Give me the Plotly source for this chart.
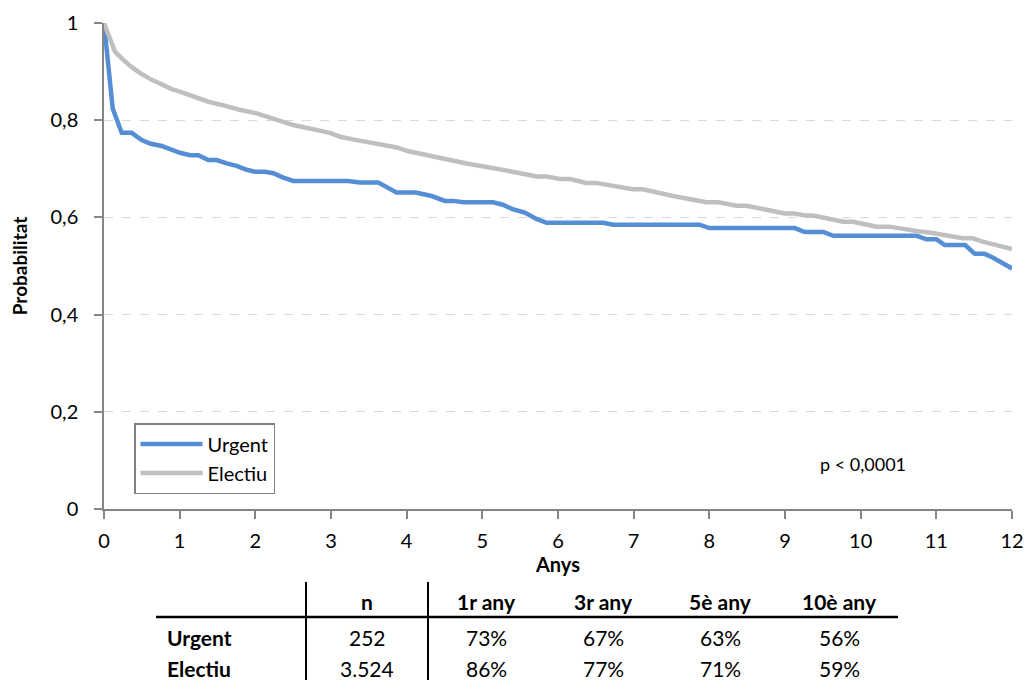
import plotly.graph_objects as go

# ---- data ----
urgent_years = [0, 0.115, 0.234, 0.366, 0.498, 0.608, 0.762, 1.004, 1.137, 1.247, 1.379, 1.489, 1.621, 1.753,
                1.886, 1.996, 2.128, 2.238, 2.37, 2.502, 3.23, 3.38, 3.625, 3.868, 4.12, 4.33, 4.505, 4.615,
                4.75, 5.14, 5.27, 5.40, 5.56, 5.715, 5.85, 6.6, 6.73, 7.87, 8.0, 9.13, 9.26, 9.505, 9.64,
                10.74, 10.87, 11.0, 11.11, 11.38, 11.51, 11.64, 11.75, 12.0]
urgent_surv = [1.0, 0.824, 0.774, 0.774, 0.759, 0.752, 0.747, 0.733, 0.728, 0.728, 0.718, 0.718, 0.711, 0.706,
               0.698, 0.694, 0.694, 0.691, 0.682, 0.675, 0.675, 0.672, 0.672, 0.651, 0.651, 0.644, 0.634, 0.634,
               0.631, 0.631, 0.626, 0.617, 0.610, 0.597, 0.589, 0.589, 0.585, 0.585, 0.578, 0.578, 0.570, 0.570,
               0.562, 0.562, 0.555, 0.555, 0.543, 0.543, 0.525, 0.525, 0.517, 0.495]

electiu_years = [0, 0.145, 0.255, 0.366, 0.498, 0.63, 0.762, 0.894, 1.004, 1.137, 1.247, 1.379, 1.62, 1.775,
                 2.018, 2.238, 2.502, 2.986, 3.12, 3.34, 3.60, 3.87, 4.0, 4.33, 4.79, 5.23, 5.72, 5.85, 6.03,
                 6.16, 6.37, 6.50, 6.99, 7.12, 7.52, 7.96, 8.12, 8.36, 8.49, 9.0, 9.13, 9.26, 9.37, 9.77,
                 9.90, 10.21, 10.38, 10.78, 10.91, 11.35, 11.48, 11.61, 12.0]
electiu_surv = [1.0, 0.941, 0.924, 0.909, 0.895, 0.883, 0.874, 0.864, 0.859, 0.852, 0.847, 0.838, 0.829, 0.822,
                0.814, 0.802, 0.790, 0.774, 0.766, 0.759, 0.751, 0.744, 0.737, 0.726, 0.711, 0.699, 0.684, 0.684,
                0.679, 0.679, 0.671, 0.671, 0.658, 0.658, 0.644, 0.631, 0.631, 0.624, 0.624, 0.608, 0.608, 0.604,
                0.604, 0.591, 0.591, 0.581, 0.581, 0.571, 0.569, 0.557, 0.557, 0.550, 0.535]

series_names = ["Urgent", "Electiu"]
x_ticks = list(range(0, 13))
y_ticks = [0, 0.2, 0.4, 0.6, 0.8, 1]
y_tick_labels = ["0", "0,2", "0,4", "0,6", "0,8", "1"]
p_value_text = "p < 0,0001"

table_header = ["n", "1r any", "3r any", "5è any", "10è any"]
table_rows = ["Urgent", "Electiu"]
table_values = [["252", "73%", "67%", "63%", "56%"],
                ["3.524", "86%", "77%", "71%", "59%"]]

FONT = "Lato, Carlito, Calibri, sans-serif"
FS = 20
TFS = 21
W, H = 1030, 680
L, R, T, B = 104, 18, 23, 171
PW, PH = W - L - R, H - T - B


def px(xp):
    return (xp - L) / PW


def py(yp):
    return (H - B - yp) / PH


fig = go.Figure()
fig.add_trace(go.Scatter(x=urgent_years, y=urgent_surv, mode="lines", name=series_names[0],
                         line=dict(color="#558ED5", width=4.5)))
fig.add_trace(go.Scatter(x=electiu_years, y=electiu_surv, mode="lines", name=series_names[1],
                         line=dict(color="#BFBFBF", width=4.5)))

annotations = [dict(x=px(863), y=py(464), text=p_value_text, showarrow=False,
                    font=dict(size=18, color="#000"), xref="paper", yref="paper",
                    xanchor="center", yanchor="middle")]

col_x = [367, 486, 603, 720, 839]
row_y = [601, 637, 668]
for cx, h in zip(col_x, table_header):
    annotations.append(dict(x=px(cx), y=py(row_y[0]), xref="paper", yref="paper", text="<b>%s</b>" % h,
                            showarrow=False, font=dict(size=TFS, color="#000"), xanchor="center",
                            yanchor="middle"))
for ri, (rname, vals) in enumerate(zip(table_rows, table_values)):
    annotations.append(dict(x=px(165), y=py(row_y[ri + 1]), xref="paper", yref="paper", text="<b>%s</b>" % rname,
                            showarrow=False, font=dict(size=TFS, color="#000"), xanchor="left",
                            yanchor="middle"))
    for cx, v in zip(col_x, vals):
        annotations.append(dict(x=px(cx), y=py(row_y[ri + 1]), xref="paper", yref="paper", text=v,
                                showarrow=False, font=dict(size=TFS, color="#000"), xanchor="center",
                                yanchor="middle"))

shapes = [
    dict(type="line", xref="paper", yref="paper", x0=px(306), x1=px(306), y0=py(582), y1=py(680),
         line=dict(color="#000", width=2)),
    dict(type="line", xref="paper", yref="paper", x0=px(428), x1=px(428), y0=py(582), y1=py(680),
         line=dict(color="#000", width=2)),
    dict(type="line", xref="paper", yref="paper", x0=px(156), x1=px(898), y0=py(617), y1=py(617),
         line=dict(color="#000", width=2.5)),
]

fig.update_layout(
    width=W, height=H,
    margin=dict(l=L, r=R, t=T, b=B, autoexpand=False),
    paper_bgcolor="white", plot_bgcolor="white",
    font=dict(family=FONT, size=FS, color="#000"),
    separators=",.",
    showlegend=True,
    legend=dict(x=px(134), y=py(423), xanchor="left", yanchor="top",
                bordercolor="#808080", borderwidth=1.5, bgcolor="white",
                font=dict(size=FS), itemwidth=62, tracegroupgap=0,
                entrywidth=80, entrywidthmode="pixels"),
    xaxis=dict(range=[0, 12], tickvals=x_ticks, ticks="outside", ticklen=8, tickcolor="#868686",
               tickwidth=1.5, ticklabelstandoff=5, automargin=False,
               showline=True, linecolor="#868686", linewidth=1.5, showgrid=False, zeroline=False,
               title=dict(text="<b>Anys</b>", font=dict(size=FS), standoff=4)),
    yaxis=dict(range=[0, 1], tickvals=y_ticks, ticktext=y_tick_labels, ticks="outside", ticklen=8,
               tickcolor="#868686", tickwidth=1.5, ticklabelstandoff=12, automargin=False,
               showline=True, linecolor="#868686", linewidth=1.5,
               showgrid=True, gridcolor="#D9D9D9", griddash="dash", gridwidth=1.2, zeroline=False,
               title=dict(text="<b>Probabilitat</b>", font=dict(size=19), standoff=18)),
    annotations=annotations,
    shapes=shapes,
)

fig.write_html("out.html", config={"displayModeBar": False},
               post_script="document.body.style.margin='0';document.body.style.overflow='hidden';")
